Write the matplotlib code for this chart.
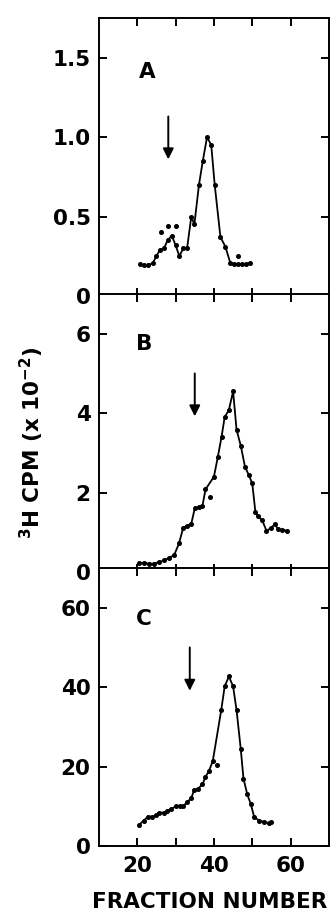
#!/usr/bin/env python3
"""
3H CPM 분획 프로파일 (A, B, C 패널)
"""

import matplotlib
matplotlib.use("Agg")
import matplotlib.pyplot as plt
from matplotlib.ticker import FixedLocator

# 패널 A
a_frac = [20.7, 21.7, 22.8, 24.0, 25.0, 25.9, 27.0, 27.9, 29.0, 30.0, 31.0, 32.0, 33.0, 34.1,
          34.9, 36.1, 37.1, 38.2, 39.3, 40.2, 41.7, 43.0, 44.3, 45.3, 46.3, 47.3, 48.3, 49.3]
a_cpm = [0.20, 0.195, 0.195, 0.205, 0.25, 0.29, 0.30, 0.35, 0.38, 0.32, 0.25, 0.30, 0.30, 0.50,
         0.45, 0.70, 0.85, 1.00, 0.95, 0.70, 0.37, 0.31, 0.205, 0.20, 0.20, 0.20, 0.20, 0.205]
a_extra_frac = [26.1, 28.1, 30.0, 46.3]
a_extra_cpm = [0.40, 0.44, 0.44, 0.25]

# 패널 B
b_frac = [20.4, 21.7, 23.0, 24.3, 25.7, 27.0, 28.3, 29.6, 30.9, 32.0, 33.0, 34.1, 35.0, 36.1,
          37.0, 37.8, 40.0, 41.0, 42.0, 42.8, 43.9, 45.0, 45.9, 47.0, 48.1, 49.1, 50.0, 50.8,
          51.5, 52.6, 53.7, 54.8, 55.8, 56.8, 57.8, 59.0]
b_cpm = [0.23, 0.23, 0.21, 0.21, 0.25, 0.29, 0.36, 0.42, 0.72, 1.12, 1.15, 1.22, 1.60, 1.64,
         1.66, 2.08, 2.40, 2.89, 3.41, 3.90, 4.08, 4.55, 3.58, 3.18, 2.65, 2.44, 2.23, 1.52,
         1.40, 1.30, 1.04, 1.10, 1.20, 1.08, 1.06, 1.04]
b_extra_frac = [39.1]
b_extra_cpm = [1.89]

# 패널 C
c_frac = [20.4, 21.7, 22.8, 23.9, 24.8, 25.7, 27.0, 27.8, 28.9, 30.0, 31.1, 32.0, 33.0, 34.1,
          34.8, 35.8, 37.0, 37.8, 38.7, 39.7, 41.9, 42.8, 43.9, 45.0, 45.9, 47.0, 47.7, 48.7,
          49.6, 50.5, 51.8, 53.0, 54.3, 55.0]
c_cpm = [5.3, 6.4, 7.4, 7.4, 7.7, 8.4, 8.4, 8.9, 9.3, 10.0, 10.0, 10.1, 11.0, 12.1,
         14.0, 14.4, 15.5, 17.4, 18.9, 21.4, 34.2, 40.2, 42.7, 40.2, 34.2, 24.4, 17.0, 13.0,
         10.6, 7.3, 6.4, 6.1, 5.7, 6.0]
c_extra_frac = [40.7]
c_extra_cpm = [20.3]

panel_names = ["A", "B", "C"]
y_limits = [1.75, 7, 70]
y_ticks = [[0, 0.5, 1.0, 1.5], [0, 2, 4, 6], [0, 20, 40, 60]]
y_ticklabels = [["0", "0.5", "1.0", "1.5"], ["0", "2", "4", "6"], ["0", "20", "40", "60"]]
arrow_x = [28.1, 35.0, 33.7]
arrow_top = [1.13, 5.0, 50.0]
arrow_tip = [0.86, 3.92, 39.1]
label_pos = [(22.6, 1.41), (21.7, 5.73), (21.7, 57.2)]

x_ticks = [20, 40, 60]
x_minor = [30, 50]

FS = 15.5
FW = 'bold'

fig = plt.figure(figsize=(3.34, 9.22), dpi=100)
left, width = 0.296, 0.689
bottoms = [0.679, 0.3796, 0.0824]
height = 0.3015

series = [(a_frac, a_cpm, a_extra_frac, a_extra_cpm),
          (b_frac, b_cpm, b_extra_frac, b_extra_cpm),
          (c_frac, c_cpm, c_extra_frac, c_extra_cpm)]

for i, (fx, fy, ex, ey) in enumerate(series):
    ax = fig.add_axes([left, bottoms[i], width, height])
    ax.plot(fx, fy, '-', color='black', lw=1.3, marker='o', markersize=2.6)
    ax.plot(ex, ey, 'o', color='black', markersize=2.6)

    ax.set_xlim(10, 70)
    ax.set_ylim(0, y_limits[i])
    ax.set_yticks(y_ticks[i])
    ax.set_yticklabels(y_ticklabels[i], fontsize=FS, fontweight=FW)
    ax.xaxis.set_major_locator(FixedLocator(x_ticks))
    ax.xaxis.set_minor_locator(FixedLocator(x_minor))
    if i == 2:
        ax.set_xticklabels([str(t) for t in x_ticks], fontsize=FS, fontweight=FW)
    else:
        ax.set_xticklabels([])

    for side in ax.spines.values():
        side.set_linewidth(1.4)
    ax.tick_params(which='both', direction='in', length=5.5, width=1.4,
                   top=True, right=True)
    ax.tick_params(axis='y', pad=6)
    ax.tick_params(axis='x', pad=7)

    # 패널 라벨
    ax.text(label_pos[i][0], label_pos[i][1], panel_names[i], fontsize=FS,
            fontweight=FW, ha='center', va='center')

    # 화살표
    ax.annotate('', xy=(arrow_x[i], arrow_tip[i]), xytext=(arrow_x[i], arrow_top[i]),
                arrowprops=dict(arrowstyle='-|>', color='black', lw=1.4,
                                mutation_scale=16, shrinkA=0, shrinkB=0))

plt.rcParams['mathtext.default'] = 'bf'
fig.text(0.096, 0.52, r'$^{3}$H CPM (x 10$^{-2}$)', rotation=90, fontsize=FS,
         fontweight=FW, ha='center', va='center')
fig.text(0.629, 0.011, 'FRACTION NUMBER', fontsize=FS, fontweight=FW,
         ha='center', va='bottom')

fig.savefig('out.png', dpi=100)
